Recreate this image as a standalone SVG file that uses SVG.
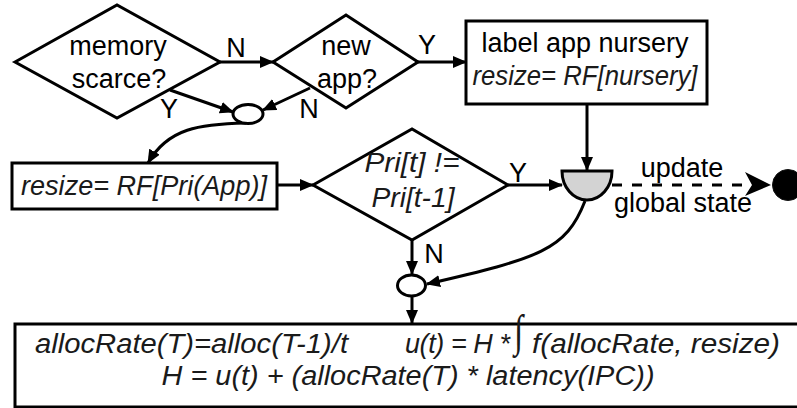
<svg xmlns="http://www.w3.org/2000/svg" width="797" height="408" viewBox="0 0 797 408">
  <style>
    .shape { fill: #ffffff; stroke: #000000; stroke-width: 3; }
    .line { fill: none; stroke: #000000; stroke-width: 3; }
    .sans { font-family: "Liberation Sans", Arial, sans-serif; font-size: 27px; fill: #000000; }
    .math { font-family: "Liberation Sans", Arial, sans-serif; font-style: italic; font-size: 27px; fill: #1a1a1a; }
    .mid { text-anchor: middle; }
  </style>
  <defs>
    <marker id="arrow" markerUnits="userSpaceOnUse" markerWidth="14" markerHeight="12" refX="13" refY="6" orient="auto">
      <path d="M0,0 L14,6 L0,12 z" fill="#000000"/>
    </marker>
  </defs>

  <rect width="797" height="408" fill="#ffffff"/>

  <!-- connectors -->
  <g id="connectors">
    <path class="line" d="M220,62 L273,62" marker-end="url(#arrow)"/>
    <path class="line" d="M418,62 L466,62" marker-end="url(#arrow)"/>
    <path class="line" d="M170,90 L233,112" marker-end="url(#arrow)"/>
    <path class="line" d="M310,88 L263,110" marker-end="url(#arrow)"/>
    <path class="line" d="M246,123 C200,124 168,128 148,163" marker-end="url(#arrow)"/>
    <path class="line" d="M277,185 L313,185" marker-end="url(#arrow)"/>
    <path class="line" d="M508,185 L562,185" marker-end="url(#arrow)"/>
    <path class="line" d="M587,104 L587,170" marker-end="url(#arrow)"/>
    <path class="line" d="M612,185 L750,185" stroke-dasharray="10,10"/>
    <path d="M745,172 L771,185 L745,196 L752,185 z" fill="#000000"/>
    <path class="line" d="M585,201 C566,250 540,258 427,284" marker-end="url(#arrow)"/>
    <path class="line" d="M412,240 L412,274" marker-end="url(#arrow)"/>
    <path class="line" d="M412,296 L412,323" marker-end="url(#arrow)"/>
    <!-- branch labels -->
    <text class="sans mid" x="236" y="57">N</text>
    <text class="sans mid" x="427" y="54">Y</text>
    <text class="sans mid" x="169" y="118">Y</text>
    <text class="sans mid" x="309" y="118">N</text>
    <text class="sans mid" x="518" y="182">Y</text>
    <text class="sans mid" x="434" y="263">N</text>
    <text class="sans mid" x="682" y="177">update</text>
    <text class="sans mid" x="683" y="212">global state</text>
  </g>

  <g id="memory-scarce">
    <polygon class="shape" points="15,62 117,5 220,62 117,118"/>
    <text class="sans mid" x="118" y="55">memory</text>
    <text class="sans mid" x="119" y="88">scarce?</text>
  </g>

  <g id="new-app">
    <polygon class="shape" points="273,62 346,15 418,62 346,108"/>
    <text class="sans mid" x="346" y="55">new</text>
    <text class="sans mid" x="347" y="88">app?</text>
  </g>

  <g id="nursery">
    <rect class="shape" x="466" y="21" width="241" height="83"/>
    <text class="sans mid" x="585" y="52">label app nursery</text>
    <text class="math mid" x="585" y="85" textLength="225" lengthAdjust="spacingAndGlyphs">resize= RF[nursery]</text>
  </g>

  <g id="join-top">
    <ellipse class="shape" cx="248" cy="114" rx="15" ry="9.5"/>
  </g>

  <g id="resize-pri">
    <rect class="shape" x="12" y="163" width="265" height="46"/>
    <text class="math mid" x="144" y="195" textLength="246" lengthAdjust="spacingAndGlyphs">resize= RF[Pri(App)]</text>
  </g>

  <g id="pri-changed">
    <polygon class="shape" points="313,185 412,129 508,185 412,240"/>
    <text class="math mid" x="412" y="172" textLength="95" lengthAdjust="spacingAndGlyphs">Pri[t] !=</text>
    <text class="math mid" x="413" y="207" textLength="83" lengthAdjust="spacingAndGlyphs">Pri[t-1]</text>
  </g>

  <g id="merge">
    <path d="M562,171 L612,171 A25,29 0 0 1 562,171 z" fill="#d3d3d3" stroke="#000000" stroke-width="3"/>
  </g>

  <g id="global-state">
    <circle cx="788" cy="185" r="15.5" fill="#000000" stroke="#111111" stroke-width="1"/>
  </g>

  <g id="join-bottom">
    <ellipse class="shape" cx="411.5" cy="285.5" rx="14" ry="10.5"/>
  </g>

  <g id="heat-model">
    <rect class="shape" x="15" y="324" width="800" height="83"/>
    <text class="math" x="35" y="353" textLength="313" lengthAdjust="spacingAndGlyphs">allocRate(T)=alloc(T-1)/t</text>
    <text class="math" x="405" y="353" textLength="105" lengthAdjust="spacing">u(t) =  H *</text>
    <!-- tall integral sign, stretched vertically -->
    <text x="0" y="0" font-family="Liberation Serif, serif" font-style="italic" font-size="30" fill="#1a1a1a" transform="translate(514,346) scale(1.1,1.5)">∫</text>
    <text class="math" x="532" y="353" textLength="248" lengthAdjust="spacingAndGlyphs">f(allocRate, resize)</text>
    <text class="math mid" x="408" y="385" textLength="493" lengthAdjust="spacingAndGlyphs">H = u(t) + (allocRate(T) * latency(IPC))</text>
  </g>
</svg>
